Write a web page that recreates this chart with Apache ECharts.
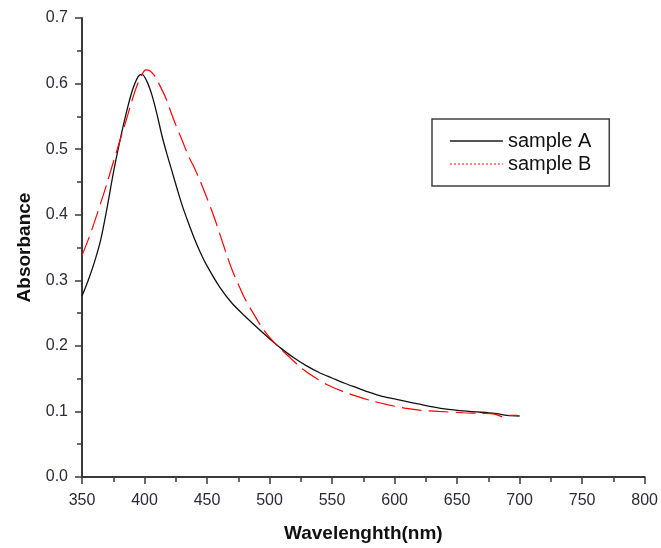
<!DOCTYPE html>
<html>
<head>
<meta charset="utf-8">
<script src="https://cdn.jsdelivr.net/npm/echarts@6/dist/echarts.min.js"></script>
<style>html,body{margin:0;padding:0;background:#fff}#c{width:661px;height:548px}</style>
</head>
<body>
<div id="c"></div>
<script>
var seriesNames = ['sample A', 'sample B'];
var xTicks = [350, 400, 450, 500, 550, 600, 650, 700, 750, 800];
var yTicks = [0.0, 0.1, 0.2, 0.3, 0.4, 0.5, 0.6, 0.7];

var wavelengthA = [350,355,360,365,370,375,380,385,390,395,398,402,406,410,414,418,422,426,430,435,440,445,450,460,470,480,490,500,510,520,530,540,550,560,570,580,590,600,620,640,660,680,690,700];
var absorbanceA = [0.276,0.300,0.328,0.362,0.410,0.463,0.510,0.552,0.588,0.611,0.614,0.603,0.582,0.553,0.520,0.492,0.466,0.440,0.415,0.388,0.363,0.341,0.322,0.290,0.265,0.246,0.228,0.211,0.195,0.181,0.169,0.159,0.151,0.143,0.136,0.129,0.123,0.119,0.111,0.104,0.100,0.097,0.094,0.093];

var wavelengthB = [350,355,360,365,370,375,380,385,390,394,398,401,404,408,412,417,421,425,430,435,440,445,450,455,460,465,470,475,480,485,490,495,500,507,518,527,537,547,558,570,582,595,608,620,635,655,670,680,688,692,698];
var absorbanceB = [0.338,0.362,0.389,0.418,0.448,0.480,0.511,0.542,0.574,0.597,0.614,0.621,0.620,0.612,0.598,0.578,0.557,0.537,0.514,0.490,0.471,0.449,0.425,0.400,0.372,0.343,0.316,0.294,0.273,0.256,0.240,0.225,0.213,0.199,0.179,0.164,0.151,0.140,0.131,0.123,0.116,0.110,0.105,0.102,0.100,0.098,0.097,0.096,0.091,0.094,0.094];

function pairs(xs, ys) { return xs.map(function (x, i) { return [x, ys[i]]; }); }

var axisColor = '#3a3a3a';
var chart = echarts.init(document.getElementById('c'), null, { renderer: 'canvas' });
chart.setOption({
  animation: false,
  backgroundColor: '#ffffff',
  textStyle: { fontFamily: 'Liberation Sans' },
  grid: { left: 82, right: 12, top: 18, bottom: 68, containLabel: false },
  legend: {
    show: true,
    orient: 'vertical',
    left: 432, top: 119,
    padding: [12, 18, 12, 17],
    borderColor: '#404040', borderWidth: 1.5,
    itemWidth: 53, itemHeight: 14, itemGap: 3,
    textStyle: { fontSize: 20, color: '#111', lineHeight: 20, fontFamily: 'Liberation Sans' },
    data: [
      { name: 'sample A', itemStyle: { opacity: 0 }, lineStyle: { color: '#555', width: 1.8, type: 'solid' } },
      { name: 'sample B', itemStyle: { opacity: 0 }, lineStyle: { color: '#ff0000', width: 1, type: [2, 2] } }
    ]
  },
  xAxis: {
    type: 'value', min: 350, max: 800, interval: 50,
    name: 'Wavelenghth(nm)', nameLocation: 'middle', nameGap: 47,
    nameTextStyle: { fontSize: 19, fontWeight: 'bold', color: '#111', fontFamily: 'Liberation Sans' },
    axisLine: { show: true, onZero: false, lineStyle: { color: axisColor, width: 2 } },
    axisTick: { show: true, inside: false, length: 7, lineStyle: { color: axisColor, width: 1.5 } },
    minorTick: { show: true, splitNumber: 2, length: 5, lineStyle: { color: axisColor, width: 1.5 } },
    splitLine: { show: false },
    axisLabel: { fontSize: 16, color: '#2a2a3a', margin: 16, formatter: function (v) { return xTicks.indexOf(v) >= 0 ? String(v) : ''; } }
  },
  yAxis: {
    type: 'value', min: 0, max: 0.7, interval: 0.1,
    name: 'Absorbance', nameLocation: 'middle', nameGap: 48, nameRotate: 90,
    nameTextStyle: { fontSize: 19, fontWeight: 'bold', color: '#111', fontFamily: 'Liberation Sans' },
    axisLine: { show: true, onZero: false, lineStyle: { color: axisColor, width: 2 } },
    axisTick: { show: true, inside: false, length: 7, lineStyle: { color: axisColor, width: 1.5 } },
    minorTick: { show: true, splitNumber: 2, length: 5, lineStyle: { color: axisColor, width: 1.5 } },
    splitLine: { show: false },
    axisLabel: { fontSize: 16, color: '#2a2a3a', margin: 14, formatter: function (v) { var t = Math.round(v * 10) / 10; return yTicks.indexOf(t) >= 0 ? t.toFixed(1) : ''; } }
  },
  series: [
    { name: seriesNames[0], type: 'line', data: pairs(wavelengthA, absorbanceA), showSymbol: false, symbol: 'none', smooth: 0.3,
      lineStyle: { color: '#111', width: 1.3 }, itemStyle: { color: '#111' } },
    { name: seriesNames[1], type: 'line', data: pairs(wavelengthB, absorbanceB), showSymbol: false, symbol: 'none', smooth: 0.3,
      lineStyle: { color: '#ff0000', width: 1.2, type: [20, 7] }, itemStyle: { color: '#ff0000' } }
  ]
});
</script>
</body>
</html>
